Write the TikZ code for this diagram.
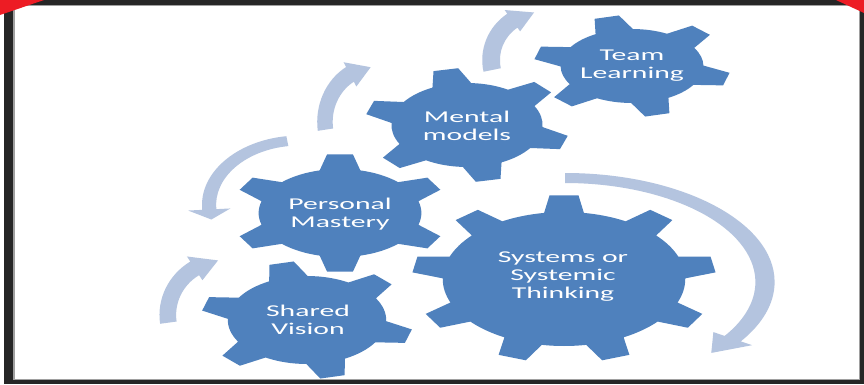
\documentclass[tikz,border=0pt]{standalone}
\usepackage{fontspec}
\newfontfamily\gearfont[FakeStretch=1.8]{Carlito}
\definecolor{gearblue}{HTML}{4F81BD}
\definecolor{arrowblue}{HTML}{B4C4DF}
\definecolor{framedark}{HTML}{262626}
\definecolor{framegray}{HTML}{A0A0A0}
\definecolor{cornerred}{HTML}{ED1C24}
\tikzset{
  gearfill/.style={fill=gearblue},
  arrowfill/.style={fill=arrowblue},
  gearlabel/.style={text=white, align=center, inner sep=0pt,
    font=\gearfont\fontsize{16.5}{18}\selectfont}
}
% centre x, centre y, xscale, teeth, body radius, tip radius, rotation, base half width, tip half width
\newcommand{\gear}[9]{%
  \pgfmathsetmacro\toothB{asin(#8/#5)}%
  \pgfmathsetmacro\toothT{asin(#9/#6)}%
  \fill[gearfill, shift={(#1,#2)}, xscale=#3] ({#7-\toothB}:#5)
    \foreach \k [evaluate=\k as \a using #7+(\k-1)*360/#4] in {1,...,#4} {
      -- ({\a-\toothB}:#5) -- ({\a-\toothT}:#6) -- ({\a+\toothT}:#6) -- ({\a+\toothB}:#5)
      arc[start angle={\a+\toothB}, end angle={\a+360/#4-\toothB}, radius=#5]
    } -- cycle;}
% centre x, centre y, xscale, radius, tail angle, head angle, tip angle, half width, head half width
\newcommand{\circarrow}[9]{%
  \fill[arrowfill, shift={(#1,#2)}, xscale=#3]
    ({#5}:{#4+#8}) arc[start angle=#5, end angle=#6, radius={#4+#8}]
    -- ({#6}:{#4+#9}) -- ({#7}:{#4}) -- ({#6}:{#4-#9}) -- ({#6}:{#4-#8})
    arc[start angle=#6, end angle=#5, radius={#4-#8}] -- cycle;}
\begin{document}
\begin{tikzpicture}[x=1pt, y=1pt]
  \useasboundingbox (0,0) rectangle (864,384);
  \fill[white] (0,0) rectangle (864,384);
  \fill[framedark] (4,0) rectangle (13,384);
  \fill[framedark] (4,379) rectangle (864,384);
  \fill[framedark] (860,0) rectangle (864,384);
  \fill[framedark] (4,0) rectangle (864,4);
  \draw[framegray, line width=1.5pt] (13.75,4.75) rectangle (859.25,378.25);
  \fill[cornerred] (0,384) -- (44,384) -- (0,369) -- cycle;
  \fill[cornerred] (836,384) -- (864,384) -- (864,371) -- cycle;

  \circarrow{225}{69}{1.04}{55}{188}{122}{97}{8}{14}
  \circarrow{300}{179}{1.41}{64.5}{98}{184}{193}{5}{15}
  \circarrow{375}{262}{0.91}{55}{188}{120}{95}{8.5}{14}
  \circarrow{541}{324}{1.04}{48}{192}{125}{98}{8.5}{13}
  \circarrow{565}{102}{1.923}{104}{90}{-33}{-43}{5}{12}

  \gear{307}{64}{1.8}{6}{44}{59}{44}{11}{7}
  \gear{340}{171}{1.85}{6}{44}{59}{30}{11}{7}
  \gear{467}{259}{1.8}{6}{42}{57}{42}{11}{7}
  \gear{632}{318}{1.93}{6}{37}{51}{45}{10}{6.5}
  \gear{564}{105}{1.81}{9}{67}{84}{10}{11}{8}

  \node[gearlabel] (shared) at (308,64) {Shared\\Vision};
  \node[gearlabel] (mastery) at (340,170) {Personal\\Mastery};
  \node[gearlabel] (mental) at (467,258) {Mental\\models};
  \node[gearlabel] (team) at (632,318) {Team\\Learning};
  \node[gearlabel] (systems) at (563,107) {Systems or\\Systemic\\Thinking};
\end{tikzpicture}
\end{document}
